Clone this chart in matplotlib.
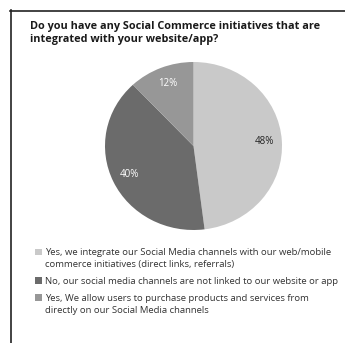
import matplotlib
matplotlib.use("Agg")
import matplotlib.pyplot as plt
from matplotlib.lines import Line2D
from matplotlib.patches import Rectangle
from matplotlib.legend_handler import HandlerPatch

# survey answers
answers = [
    "Yes, we integrate our Social Media channels with our web/mobile\ncommerce initiatives (direct links, referrals)",
    "No, our social media channels are not linked to our website or app",
    "Yes, We allow users to purchase products and services from\ndirectly on our Social Media channels",
]
shares = [48, 40, 12]
greys = ["#c9c9c9", "#6b6b6b", "#979797"]
pct_colors = ["#222222", "white", "white"]
question = "Do you have any Social Commerce initiatives that are\nintegrated with your website/app?"

W, H = 345, 343
fig = plt.figure(figsize=(W / 100, H / 100), dpi=100)
fig.patch.set_facecolor("white")

def fx(px):
    return px / W

def fy(py):
    return 1 - py / H

# frame (top and left edges only)
fig.add_artist(Line2D([fx(10), fx(345)], [fy(10.5), fy(10.5)], color="#222222", lw=1.2))
fig.add_artist(Line2D([fx(10.5), fx(10.5)], [fy(10), fy(343)], color="#222222", lw=1.2))

fig.text(fx(30), fy(33), question, ha="left", va="center", fontsize=7.8,
         fontweight="bold", family="Open Sans", color="#1a1a1a", linespacing=1.35)

ax = fig.add_axes([fx(105), fy(230), fx(177), 168 / H])
wedges, texts, autotexts = ax.pie(shares, colors=greys, startangle=90, counterclock=False,
                                  autopct="%d%%", pctdistance=0.8,
                                  wedgeprops=dict(linewidth=0))
for t, c in zip(autotexts, pct_colors):
    t.set_color(c)
    t.set_fontsize(7)
    t.set_family("Open Sans")
ax.set_aspect("auto")
ax.set_xlim(-1, 1)
ax.set_ylim(-1, 1)
ax.axis("off")

# square markers sit beside the first line of each answer
nlines = {id(w): a.count("\n") + 1 for w, a in zip(wedges, answers)}
line_pt = 6.8 * 1.4

def top_square(legend, orig_handle, xdescent, ydescent, width, height, fontsize):
    shift = (nlines[id(orig_handle)] - 1) * line_pt / 2
    return Rectangle((-xdescent, -ydescent + shift), width, height)

leg = fig.legend(wedges, answers, loc="upper left", bbox_to_anchor=(fx(35), fy(248)),
                 frameon=False, prop=dict(family="Open Sans", size=6.8), labelcolor="#333333",
                 handlelength=0.75, handleheight=0.75, handletextpad=0.35,
                 labelspacing=0.85, borderaxespad=0, borderpad=0,
                 handler_map={w: HandlerPatch(patch_func=top_square) for w in wedges})
for t in leg.get_texts():
    t.set_linespacing(1.4)

fig.savefig("out.png", dpi=100)
